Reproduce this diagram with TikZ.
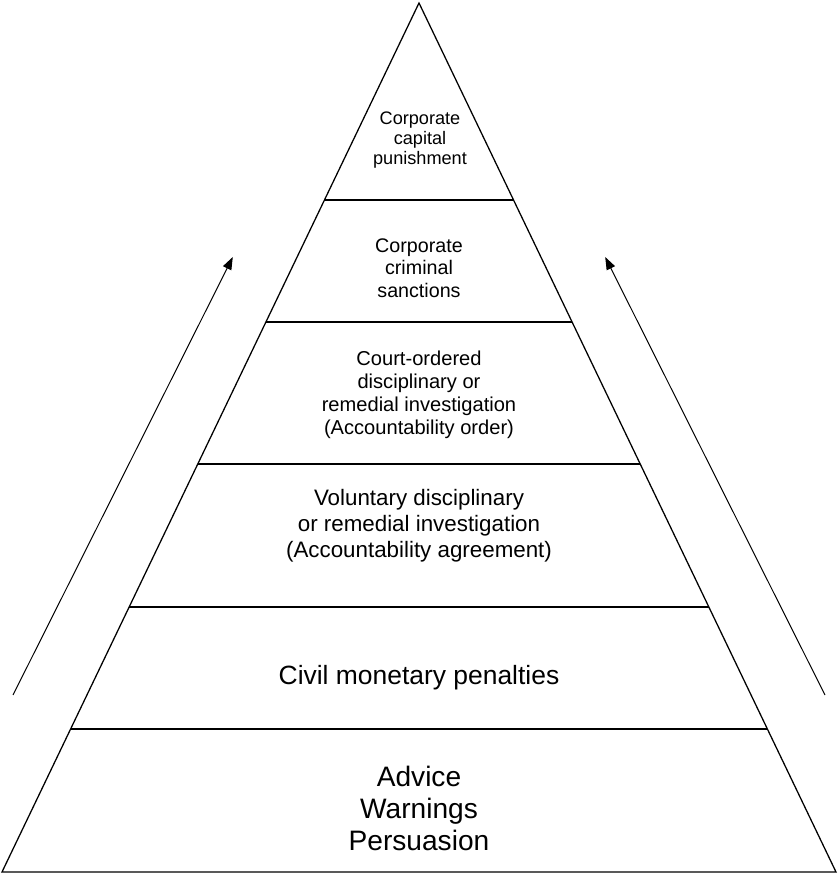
\documentclass[tikz,border=0pt]{standalone}
\usepackage{fontspec}
\setmainfont{Liberation Sans}
\usepackage{tikz}
\usetikzlibrary{arrows,arrows.meta,positioning,calc}

\tikzset{tier/.style={align=center,inner sep=0pt}}

\begin{document}
\begin{tikzpicture}[line width=0.9pt]
\useasboundingbox (0,0) rectangle (20.95,21.875);
\coordinate (apex) at (10.475,21.8);
\coordinate (bl) at (0.05,0.075);
\coordinate (br) at (20.9,0.075);
\draw (bl) -- (apex) -- (br) -- cycle;
\draw (8.11,16.875) -- (12.84,16.875);
\draw (6.65,13.825) -- (14.30,13.825);
\draw (4.945,10.275) -- (16.005,10.275);
\draw (3.23,6.7) -- (17.72,6.7);
\draw (1.765,3.65) -- (19.185,3.65);
\node[tier,font=\fontsize{12.9}{14.2}\selectfont] (capital) at (10.5,18.375) {Corporate\\capital\\punishment};
\node[tier,font=\fontsize{14}{16}\selectfont] (criminal) at (10.475,15.175) {Corporate\\criminal\\sanctions};
\node[tier,font=\fontsize{14.3}{16.5}\selectfont] (order) at (10.475,12.0) {Court-ordered\\disciplinary or\\remedial investigation\\(Accountability order)};
\node[tier,font=\fontsize{15.9}{18.5}\selectfont] (agreement) at (10.475,8.72) {Voluntary disciplinary\\or remedial investigation\\(Accountability agreement)};
\node[tier,font=\fontsize{18.8}{22}\selectfont] (civil) at (10.475,4.93) {Civil monetary penalties};
\node[tier,font=\fontsize{20}{22.7}\selectfont] (advice) at (10.475,1.665) {Advice\\Warnings\\Persuasion};
\coordinate (left0) at (0.325,4.5);
\coordinate (left1) at (5.82,15.45);
\coordinate (right0) at (20.625,4.5);
\coordinate (right1) at (15.13,15.45);
\draw[-{Triangle[length=9pt,width=6.5pt]},line width=0.7pt] (left0) -- (left1);
\draw[-{Triangle[length=9pt,width=6.5pt]},line width=0.7pt] (right0) -- (right1);
\end{tikzpicture}
\end{document}
